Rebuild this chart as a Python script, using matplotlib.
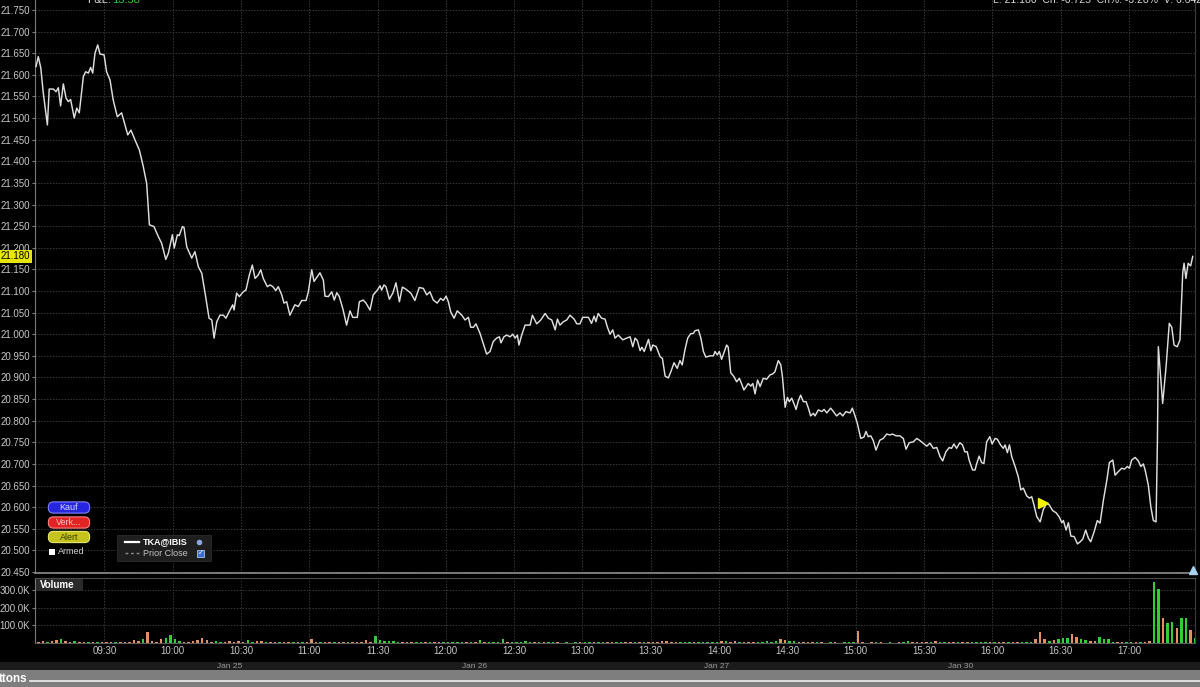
import matplotlib
matplotlib.use("Agg")
import matplotlib.pyplot as plt
from matplotlib.patches import Rectangle, FancyBboxPatch
from matplotlib.transforms import blended_transform_factory
from matplotlib.ticker import FuncFormatter

plt.rcParams['font.family'] = ['Liberation Sans', 'DejaVu Sans']

# price trace: minutes after 09:00 and last price
minutes = [
    0.0, 1.0, 2.1, 3.2, 5.0, 5.8, 7.6, 8.8, 9.8, 10.8,
    12.0, 13.2, 14.2, 15.2, 16.8, 17.9, 19.0, 20.8, 21.8, 23.0,
    24.0, 24.9, 25.9, 27.1, 28.1, 29.9, 31.0, 32.5, 33.9, 35.7,
    37.6, 40.3, 41.7, 43.5, 45.4, 47.1, 48.6, 49.8, 51.8, 53.7,
    55.2, 57.0, 58.1, 59.9, 60.7, 62.1, 62.9, 64.3, 65.0, 66.2,
    68.4, 69.8, 71.3, 72.8, 74.5, 76.0, 77.2, 78.2, 79.4, 80.8,
    82.3, 83.4, 85.2, 86.4, 87.0, 88.1, 89.3, 91.0, 92.2, 93.7,
    95.0, 96.2, 97.6, 98.7, 99.8, 101.6, 102.8, 104.0, 105.3, 106.4,
    107.9, 108.9, 110.1, 111.5, 113.7, 115.2, 116.7, 118.6, 119.6, 121.1,
    122.1, 124.7, 126.2, 126.9, 128.4,
    129.9, 131.0, 132.1, 133.2, 134.7, 136.4, 137.9, 139.1, 141.1, 142.0,
    143.7, 144.9, 146.7, 148.1, 149.9, 151.1, 151.8, 152.8, 153.7, 155.2,
    156.7, 158.1, 159.6, 160.9, 162.5, 164.6, 166.4, 168.3, 170.1, 171.6,
    173.0, 174.5, 176.2, 177.7, 178.9, 180.1, 181.1, 182.1, 183.6, 185.0,
    187.0, 188.4, 189.9, 190.9, 192.1, 193.2, 195.0, 196.4, 197.9, 199.4,
    200.8, 202.3, 203.5, 204.2, 205.5, 206.7, 208.2, 209.4, 210.4, 211.4,
    212.1, 213.3, 214.8, 217.0, 218.0, 219.9, 221.7, 223.6, 225.0, 226.5,
    228.0, 229.0, 230.1, 231.6, 233.1, 234.5, 236.3, 237.5, 238.9, 240.1,
    242.6, 244.0, 245.1, 245.9, 246.9, 248.4, 249.9, 250.9, 252.1, 253.3,
    254.3, 255.7, 257.7, 259.4,
    260.9, 262.1, 263.1, 264.1, 265.3, 266.1, 267.1, 269.0, 270.0, 270.9,
    272.4, 274.1, 275.1, 276.3, 277.7, 278.8, 280.2, 281.6, 282.8, 283.8,
    285.0, 286.2, 287.5, 288.7, 289.4, 290.9, 292.0, 293.1, 294.2, 296.0,
    297.5, 298.2, 299.2, 300.1, 301.1, 303.3, 304.0, 305.1, 306.5, 307.7,
    308.9, 309.9, 310.9, 312.8, 313.9, 314.8, 315.8, 316.9, 318.0, 319.4,
    320.9, 322.4, 323.5, 324.5, 326.0, 327.1, 327.8, 329.0, 330.0, 330.8,
    331.9, 332.9, 333.8, 334.8, 335.8, 337.0, 338.2, 339.2, 340.2, 341.4,
    342.1, 343.6, 345.1, 346.1, 347.3, 349.0, 350.2, 351.6, 353.1, 354.3,
    355.7, 357.5, 358.5, 359.7, 360.7, 362.2, 363.6, 364.5, 365.5, 366.6,
    367.7, 368.9, 370.6, 372.1, 373.6, 375.0, 376.2, 377.7, 379.4, 380.9,
    382.1, 383.5, 385.3, 386.8, 388.2, 390.0, 391.2, 392.6,
    394.1, 395.6, 397.0, 398.2, 399.6, 401.1, 402.1, 403.1, 404.3, 405.7,
    406.9, 407.9, 409.0, 409.8, 411.3, 412.4, 413.1, 414.2, 415.3, 416.3,
    417.5, 418.9, 419.9, 421.2, 422.2, 423.6, 424.8, 425.6, 426.6, 427.5,
    428.5, 430.0, 431.4, 432.5, 433.6, 435.1, 436.3, 437.3, 438.3, 439.5,
    441.0, 442.4, 443.9, 445.0, 446.5, 448.0, 449.4, 450.5, 451.2, 452.4,
    453.4, 454.5, 455.9, 457.4, 458.6, 459.7, 461.0, 462.2, 463.2, 464.7,
    466.1, 467.3, 468.8, 470.3, 471.4, 472.9, 473.9, 475.3, 476.8, 478.0,
    479.3, 480.2, 481.2, 482.7, 484.1, 485.2, 486.3, 487.1, 488.5, 489.6,
    490.7, 491.9, 492.5, 492.9, 494.8, 496.3, 497.7, 498.8, 499.8, 501.2,
    502.4, 503.6, 504.2, 505.0, 506.0, 507.1, 508.0,
]
prices = [
    21.619, 21.642, 21.616, 21.558, 21.484, 21.567, 21.567, 21.561, 21.570, 21.528,
    21.579, 21.546, 21.538, 21.543, 21.500, 21.523, 21.512, 21.596, 21.607, 21.604,
    21.617, 21.604, 21.650, 21.669, 21.648, 21.646, 21.607, 21.588, 21.542, 21.503,
    21.512, 21.461, 21.472, 21.449, 21.426, 21.388, 21.349, 21.253, 21.249, 21.226,
    21.210, 21.173, 21.187, 21.230, 21.199, 21.230, 21.228, 21.249, 21.247, 21.202,
    21.176, 21.191, 21.156, 21.141, 21.087, 21.037, 21.033, 20.991, 21.029, 21.044,
    21.044, 21.037, 21.056, 21.068, 21.056, 21.095, 21.087, 21.098, 21.102, 21.137,
    21.160, 21.129, 21.137, 21.149, 21.129, 21.110, 21.114, 21.110, 21.101, 21.110,
    21.091, 21.072, 21.075, 21.044, 21.068, 21.064, 21.078, 21.078, 21.098, 21.149,
    21.122, 21.142, 21.125, 21.088, 21.087,
    21.098, 21.079, 21.096, 21.087, 21.060, 21.021, 21.054, 21.039, 21.039, 21.075,
    21.079, 21.072, 21.056, 21.091, 21.102, 21.112, 21.102, 21.114, 21.110, 21.081,
    21.095, 21.119, 21.075, 21.109, 21.104, 21.095, 21.078, 21.108, 21.106, 21.091,
    21.098, 21.079, 21.072, 21.083, 21.078, 21.088, 21.075, 21.052, 21.037, 21.054,
    21.044, 21.033, 21.039, 21.016, 21.016, 21.024, 21.002, 20.979, 20.954, 20.960,
    20.983, 20.991, 20.994, 20.980, 20.994, 20.998, 20.994, 21.000, 20.991, 20.998,
    20.975, 20.998, 21.021, 21.021, 21.044, 21.024, 21.033, 21.048, 21.037, 21.033,
    21.010, 21.035, 21.021, 21.029, 21.033, 21.044, 21.035, 21.024, 21.024, 21.039,
    21.039, 21.025, 21.042, 21.029, 21.048, 21.037, 21.035, 21.017, 21.000, 21.010,
    20.991, 20.998, 20.987, 20.991,
    20.994, 20.971, 20.991, 20.985, 20.962, 20.970, 20.960, 20.988, 20.962, 20.975,
    20.971, 20.948, 20.944, 20.903, 20.899, 20.913, 20.934, 20.921, 20.939, 20.929,
    20.964, 20.991, 21.001, 21.002, 21.008, 21.010, 20.991, 20.960, 20.947, 20.950,
    20.950, 20.960, 20.952, 20.960, 20.942, 20.975, 20.970, 20.911, 20.902, 20.890,
    20.898, 20.885, 20.871, 20.886, 20.880, 20.886, 20.862, 20.894, 20.879, 20.898,
    20.896, 20.906, 20.908, 20.913, 20.939, 20.929, 20.902, 20.831, 20.854, 20.844,
    20.852, 20.839, 20.826, 20.846, 20.859, 20.844, 20.844, 20.829, 20.811, 20.817,
    20.811, 20.825, 20.821, 20.826, 20.818, 20.829, 20.821, 20.811, 20.818, 20.811,
    20.821, 20.818, 20.829, 20.811, 20.794, 20.759, 20.762, 20.775, 20.763, 20.765,
    20.754, 20.732, 20.755, 20.759, 20.769, 20.767, 20.769, 20.765, 20.765, 20.759,
    20.734, 20.749, 20.751, 20.759, 20.754, 20.746, 20.741, 20.748,
    20.736, 20.738, 20.717, 20.707, 20.728, 20.738, 20.736, 20.746, 20.736, 20.749,
    20.744, 20.728, 20.728, 20.709, 20.686, 20.686, 20.700, 20.718, 20.703, 20.701,
    20.751, 20.763, 20.746, 20.759, 20.757, 20.744, 20.736, 20.744, 20.726, 20.744,
    20.717, 20.694, 20.670, 20.640, 20.644, 20.626, 20.621, 20.624, 20.605, 20.578,
    20.566, 20.595, 20.609, 20.605, 20.592, 20.587, 20.577, 20.564, 20.569, 20.547,
    20.564, 20.533, 20.532, 20.515, 20.520, 20.526, 20.547, 20.528, 20.520, 20.543,
    20.569, 20.563, 20.617, 20.663, 20.703, 20.709, 20.674, 20.682, 20.690, 20.688,
    20.694, 20.690, 20.709, 20.715, 20.707, 20.694, 20.700, 20.686, 20.651, 20.601,
    20.569, 20.566, 20.755, 20.971, 20.840, 20.925, 21.025, 21.016, 20.975, 20.971,
    20.987, 21.141, 21.164, 21.129, 21.164, 21.158, 21.180,
]

# volume in thousands, one bar per 2 minutes from 09:00
bar_step = 2
volume_k = [
    8, 10, 8, 12, 15, 25, 12, 8, 10, 8, 6, 5, 4, 6, 4,
    3, 5, 8, 6, 8, 8, 15, 12, 25, 65, 10, 8, 20, 30, 45,
    25, 10, 8, 8, 10, 18, 30, 15, 8, 10, 6, 8, 10, 8, 14,
    8, 15, 8, 10, 12, 6, 8, 5, 6, 4, 6, 5, 8, 4, 3,
    20, 5, 6, 5, 4, 6, 5, 8, 6, 5, 6, 8, 15, 8, 40,
    18, 12, 10, 10, 8, 6, 6, 5, 5, 6, 5, 4, 5, 6, 5,
    5, 4, 6, 3, 5, 4, 5, 15, 8, 6, 8, 6, 20, 5, 4,
    6, 8, 10, 8, 6, 4, 3, 4, 5, 3, 2, 3, 2, 3, 4,
    4, 8, 4, 3, 5, 8, 4, 3, 4, 3, 4, 5, 3, 6, 4,
    5, 6, 12, 10, 4, 3, 5, 8, 4, 3, 6, 8, 7, 8, 6,
    10, 12, 8, 10, 6, 4, 5, 3, 8, 8, 10, 8, 12, 25, 18,
    10, 12, 8, 8, 6, 4, 3, 3, 2, 3, 3, 2, 3, 6, 8,
    70, 3, 2, 3, 6, 3, 2, 3, 2, 3, 4, 10, 6, 4, 3,
    4, 5, 12, 6, 5, 4, 5, 4, 3, 5, 8, 8, 8, 6, 4,
    4, 5, 3, 5, 6, 8, 6, 8, 5, 25, 60, 25, 12, 15, 20,
    30, 28, 50, 35, 20, 18, 12, 10, 35, 22, 25, 6, 4, 3, 5,
    6, 4, 8, 5, 10, 350, 310, 140, 115, 122, 86, 141, 141, 74, 30,
]
volume_dir = (
    "dduddudduddudud"
    "ddudddddudddduu"
    "uuddddddduudddd"
    "duuddudduddudud"
    "ddudduddudddddu"
    "uuuuuddduududdu"
    "uuuudududuuuudu"
    "uuuududuuduudud"
    "uuduudduuddudud"
    "dddddduuuduuuuu"
    "dudduddduuuuudd"
    "uuddddudduduuuu"
    "dddduddudduuddd"
    "duduuddudduuuud"
    "uddudduuudddudu"
    "uudduudduuuuddu"
    "ududduuduuduudu"
)

time_ticks = [30, 60, 90, 120, 150, 180, 210, 240, 270, 300, 330, 360, 390, 420, 450, 480]
time_labels = ["09:30", "10:00", "10:30", "11:00", "11:30", "12:00", "12:30", "13:00",
               "13:30", "14:00", "14:30", "15:00", "15:30", "16:00", "16:30", "17:00"]
price_ticks = [20.45, 20.50, 20.55, 20.60, 20.65, 20.70, 20.75, 20.80, 20.85, 20.90,
               20.95, 21.00, 21.05, 21.10, 21.15, 21.20, 21.25, 21.30, 21.35, 21.40,
               21.45, 21.50, 21.55, 21.60, 21.65, 21.70, 21.75]
volume_ticks = [100, 200, 300]
day_minutes = [85.2, 192.4, 299.1, 406.2]
day_labels = ["Jan 25", "Jan 26", "Jan 27", "Jan 30"]
fill_minute = 442.2
fill_price = 20.610
last_price = prices[-1]

W, H = 1200, 687


def box(x0, y0, x1, y1):
    return [x0 / W, 1 - y1 / H, (x1 - x0) / W, (y1 - y0) / H]


fig = plt.figure(figsize=(12, 6.87), dpi=100, facecolor='black')
ax = fig.add_axes(box(35, 0, 1195, 573))
vax = fig.add_axes(box(35, 578, 1195, 643))
ui = fig.add_axes([0, 0, 1, 1], zorder=10)
ui.set_xlim(0, W)
ui.set_ylim(H, 0)
ui.axis('off')
ui.patch.set_alpha(0)

grid_kw = dict(color='#363636', linestyle=(0, (1.5, 1.5)), linewidth=0.7)

# price panel
ax.set_facecolor('black')
ax.plot(minutes, prices, color='#dedede', lw=1.05, solid_joinstyle='round', zorder=3)
ax.plot(fill_minute, fill_price, marker='>', ms=6.5, color='#f2f200', mec='#f2f200', zorder=4)
ax.set_xlim(-0.44, 509)
ax.set_ylim(20.4477, 21.773)
ax.set_xticks(time_ticks)
ax.set_yticks(price_ticks)
ax.yaxis.set_major_formatter(FuncFormatter(lambda v, p: f'{v:.3f}'))
ax.tick_params(axis='x', length=0, labelbottom=False)
ax.tick_params(axis='y', length=2, pad=1.5, color='#808080', labelcolor='#c8c8c8', labelsize=7)
ax.grid(True, **grid_kw)
ax.set_axisbelow(True)
ax.spines['top'].set_visible(False)
ax.spines['left'].set_color('#7a7a7a')
ax.spines['right'].set_color('#3c3c3c')
ax.spines['bottom'].set_color('#8c8c8c')
ax.spines['bottom'].set_linewidth(1.2)

trans = blended_transform_factory(ax.transAxes, ax.transData)
ax.text(-0.0039, last_price, f'{last_price:.3f}', transform=trans, ha='right', va='center',
        fontsize=7, color='black', zorder=6, clip_on=False,
        bbox=dict(boxstyle='square,pad=0.12', fc='#e6e600', ec='none'))

# volume panel
vax.set_facecolor('black')
bar_minutes = [bar_step * i + bar_step / 2 for i in range(len(volume_k))]
bar_colors = ['#31cf31' if d == 'u' else '#e39163' for d in volume_dir]
vax.bar(bar_minutes, volume_k, width=1.1, color=bar_colors, linewidth=0, zorder=3)
vax.set_xlim(-0.44, 509)
vax.set_ylim(0, 371)
vax.set_yticks(volume_ticks)
vax.yaxis.set_major_formatter(FuncFormatter(lambda v, p: f'{v:.1f}K'))
vax.set_xticks(time_ticks)
vax.set_xticklabels(time_labels)
vax.tick_params(axis='x', length=0, pad=2.5, labelcolor='#c8c8c8', labelsize=7)
vax.tick_params(axis='y', length=2, pad=1.5, color='#808080', labelcolor='#c8c8c8', labelsize=7)
vax.grid(True, **grid_kw)
vax.set_axisbelow(True)
vax.spines['left'].set_color('#7a7a7a')
vax.spines['right'].set_color('#3c3c3c')
vax.spines['top'].set_color('#4a4a4a')
vax.spines['bottom'].set_color('#5a5a5a')

ui.add_patch(Rectangle((36, 579), 47, 12, fc='#2a2a2a', ec='none'))
ui.text(40, 585.5, 'Volume', color='white', fontsize=7, fontweight='bold', va='center')

# header (cut off at the top edge, as in the screenshot)
ui.text(87, 3, 'P&L:', color='#d8d8d8', fontsize=8, va='baseline')
ui.text(112, 3, '13.58', color='#2ecc2e', fontsize=8, va='baseline')
ui.text(993, 3, 'L: 21.180  Ch: -0.725  Ch%: -3.28%  V: 6.642M', color='#d8d8d8',
        fontsize=7.5, va='baseline')

# order buttons
for y, fc, ec, label, tc in [(503.5, '#2626e0', '#8080ff', 'Kauf', '#d8d8ff'),
                             (518.5, '#e02424', '#ff8080', 'Verk...', '#ffc0c0'),
                             (533.0, '#c4c41c', '#e8e870', 'Alert', '#3a3a00')]:
    ui.add_patch(FancyBboxPatch((50, y), 38, 8, boxstyle='round,pad=1.6,rounding_size=5',
                                fc=fc, ec=ec, lw=0.8))
    ui.text(69, y + 4.2, label, ha='center', va='center', fontsize=6.5, color=tc)
ui.add_patch(Rectangle((49, 549), 5.5, 5.5, fc='white', ec='none'))
ui.text(58, 552, 'Armed', color='#d0d0d0', fontsize=6.5, va='center')

# legend
ui.add_patch(Rectangle((117, 535), 94, 26, fc='#1e1e1e', ec='#2c2c2c', lw=0.6))
ui.plot([125, 139], [541.5, 541.5], color='white', lw=1.6)
ui.text(143, 541.5, 'TKA@IBIS', color='white', fontsize=6.5, fontweight='bold', va='center')
ui.plot(199, 542, marker='o', ms=3, color='#8aa8dc')
ui.plot([125, 139], [553, 553], color='#8a8a8a', lw=1.0, ls=(0, (2, 2)))
ui.text(143, 553, 'Prior Close', color='#c4c4c4', fontsize=6.5, va='center')
ui.add_patch(Rectangle((197, 549.5), 7, 7, fc='#3a6ec8', ec='#a8c4f0', lw=0.6))
ui.text(200.5, 553, '\u2713', color='white', fontsize=5, ha='center', va='center',
        family=['DejaVu Sans'])

ui.plot(1193, 569.5, marker='^', ms=6, color='#a8d0f0')

# date strip and bottom toolbar
ui.add_patch(Rectangle((0, 662), W, 8, fc='#1b1b1b', ec='none'))
dtrans = blended_transform_factory(vax.transData, ui.transData)
for m, lab in zip(day_minutes, day_labels):
    ui.text(m, 666.3, lab, transform=dtrans, color='#9a9a9a', fontsize=6,
            ha='center', va='center')
ui.add_patch(Rectangle((0, 670), W, 17, fc='#7e7e7e', ec='none'))
ui.plot([30, W], [681, 681], color='#eeeeee', lw=1.2)
ui.text(-1, 679.5, 'ttons', color='white', fontsize=8.5, fontweight='bold', va='center')

fig.savefig('out.png', dpi=100, facecolor='black')
